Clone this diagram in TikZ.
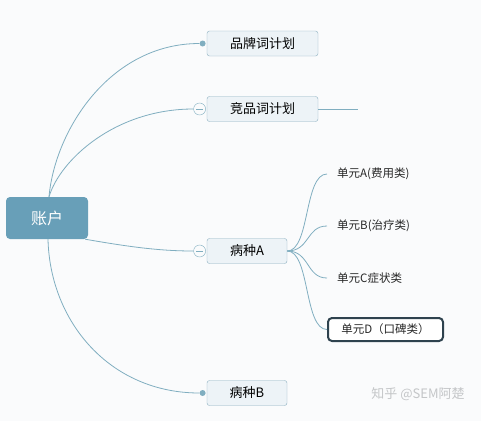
\documentclass[tikz,border=0pt]{standalone}
\usepackage{fontspec}
\setmainfont{Noto Sans CJK SC}
\usetikzlibrary{positioning}
\definecolor{rootc}{RGB}{104,159,184}
\definecolor{linec}{RGB}{128,174,192}
\definecolor{boxf}{RGB}{237,243,247}
\definecolor{boxd}{RGB}{140,176,192}
\definecolor{selc}{RGB}{46,66,78}
\definecolor{bgc}{RGB}{250,251,252}
\definecolor{wmc}{RGB}{196,198,200}

\begin{document}
\begin{tikzpicture}[x=1pt,y=-1pt,
  topic/.style={draw=boxd,fill=boxf,rounded corners=2.5pt,minimum height=25pt,inner sep=0pt,font=\fontsize{13}{15}\selectfont},
  leaf/.style={anchor=west,inner xsep=10pt,inner ysep=3pt,font=\fontsize{11.5}{13}\selectfont,text=black!85},
  branch/.style={linec,line width=0.8pt},
  dot/.style={circle,fill=linec,minimum size=6pt,inner sep=0pt},
  fold/.style={circle,draw=linec,fill=bgc,minimum size=12pt,inner sep=0pt,
    path picture={\draw[linec] ([xshift=2.5pt]path picture bounding box.west)--([xshift=-2.5pt]path picture bounding box.east);}}]
  % background and page size
  \fill[bgc] (0,0) rectangle (481,421);
  \useasboundingbox (0,0) rectangle (481,421);
  % root
  \node[fill=rootc,rounded corners=4pt,minimum width=82pt,minimum height=42pt,text=white,font=\fontsize{16}{18}\selectfont] (root) at (47,218) {账户};
  % main topics
  \node[topic,minimum width=111pt] (brand) at (262.5,43.5) {品牌词计划};
  \node[topic,minimum width=111pt] (comp) at (262.5,109) {竞品词计划};
  \node[topic,minimum width=80pt] (illA) at (247,251) {病种A};
  \node[topic,minimum width=80pt] (illB) at (247,393) {病种B};
  \node[dot,left=1pt of brand] (brandDot) {};
  \node[fold,left=1pt of comp] (compFold) {};
  \node[fold,left=1pt of illA] (illAFold) {};
  \node[dot,left=1pt of illB] (illBDot) {};
  \coordinate (compEnd) at (358,109);
  % units
  \node[leaf] (unitA) at (327,174) {单元A(费用类)};
  \node[leaf] (unitB) at (327,226) {单元B(治疗类)};
  \node[leaf] (unitC) at (327,278) {单元C症状类};
  \node[leaf,draw=selc,line width=2pt,fill=white,rounded corners=4pt,minimum width=115pt,minimum height=23pt] (unitD) at (327,329.5) {单元D（口碑类）};
  % watermark
  \node[text=wmc,font=\fontsize{13}{15}\selectfont] (mark) at (418,394) {知乎 @SEM阿楚};
  % connectors from root
  \draw[branch] ([xshift=2pt]root.north) .. controls (55,130) and (110,43.5) .. (brandDot.west);
  \draw[branch] ([xshift=2pt]root.north) .. controls (60,160) and (115,109) .. (compFold.west);
  \draw[branch] ([xshift=-3pt]root.south east) .. controls (130,247) and (160,251) .. (illAFold.west);
  \draw[branch] ([xshift=1pt]root.south) .. controls (50,322) and (110,393) .. (illBDot.west);
  \draw[branch] (comp.east) -- (compEnd);
  % connectors to units
  \draw[branch] (illA.east) .. controls (310,251) and (304,174) .. (unitA.west);
  \draw[branch] (illA.east) .. controls (310,251) and (306,226) .. (unitB.west);
  \draw[branch] (illA.east) .. controls (310,251) and (306,278) .. (unitC.west);
  \draw[branch] (illA.east) .. controls (310,251) and (304,329.5) .. (unitD.west);
\end{tikzpicture}
\end{document}
